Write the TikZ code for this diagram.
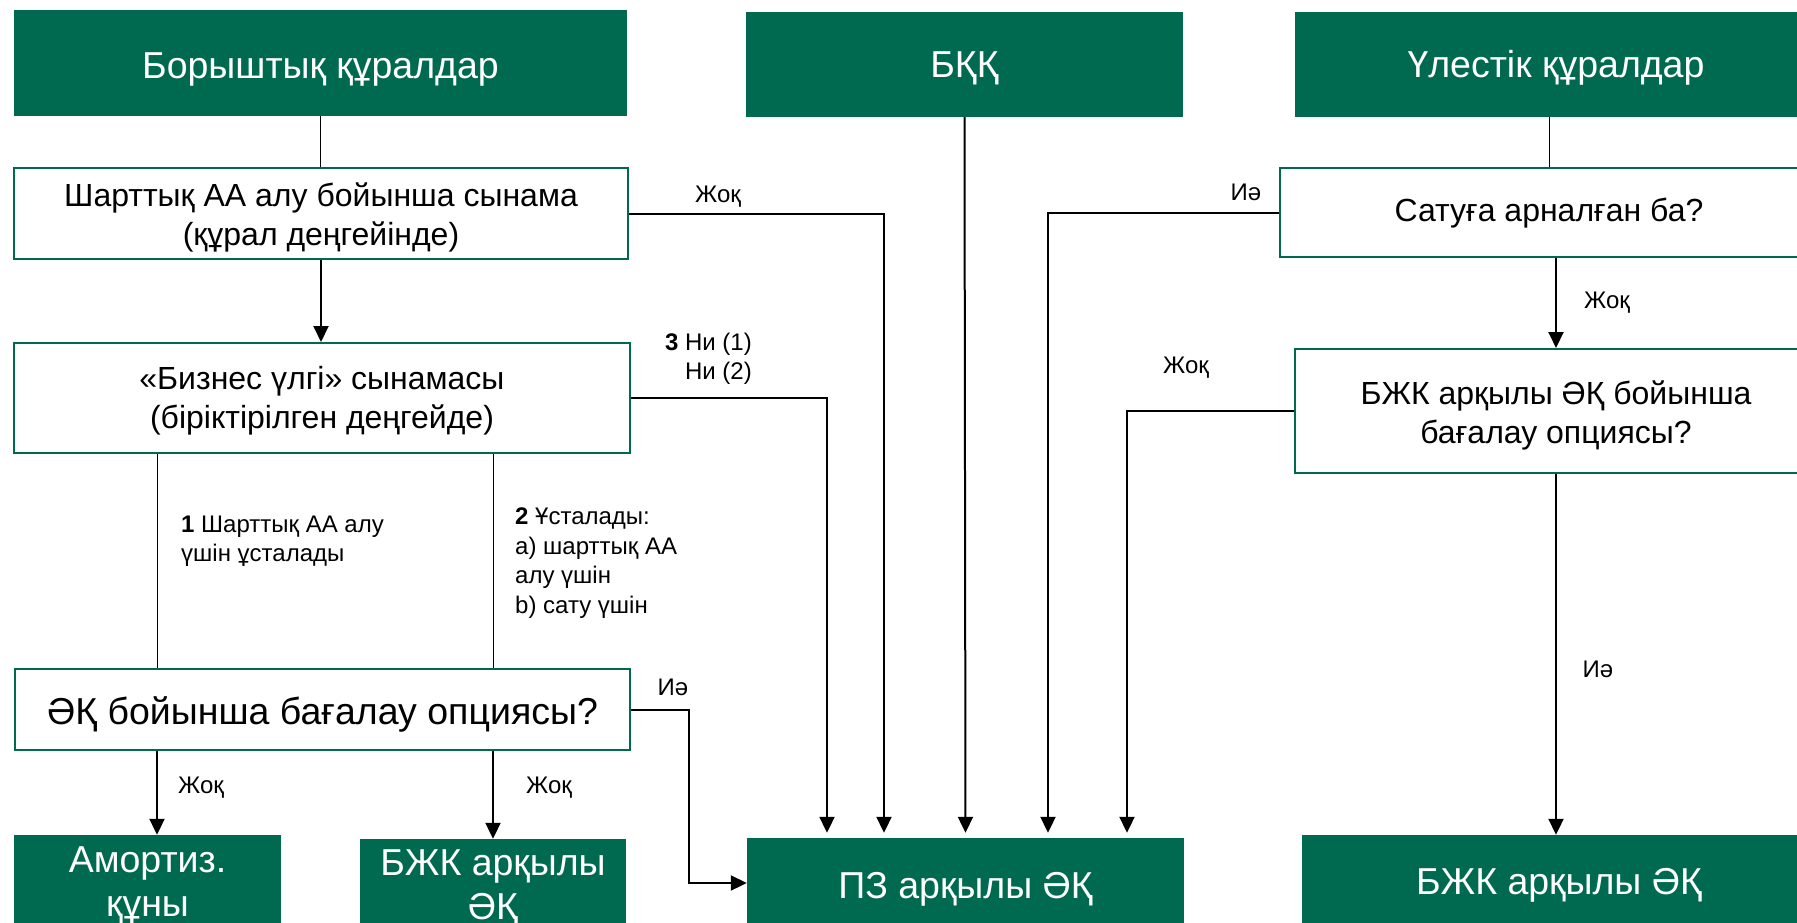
\documentclass[tikz,border=0pt]{standalone}
\usepackage{fontspec}
\setmainfont{Liberation Sans}
\usetikzlibrary{arrows.meta}
\definecolor{gr}{RGB}{0,106,80}
\newcommand{\dnshift}[2]{\raisebox{-#1}[\height][\depth]{#2}}
\begin{document}
\begin{tikzpicture}[x=1pt,y=-1pt,
 hdr/.style={fill=gr, draw=none, text=white, inner sep=0pt, align=center, font=\fontsize{37.5}{44}\selectfont},
 wbox/.style={fill=white, draw=gr, line width=2pt, inner sep=0pt, align=center, font=\fontsize{32}{39}\selectfont},
 lbl/.style={inner sep=0pt, font=\fontsize{24}{29.5}\selectfont},
 arr/.style={line width=2pt, -{Triangle[length=16pt,width=15pt]}},
 thn/.style={line width=1pt}]
\useasboundingbox (0,0) rectangle (1797,923);
\clip (0,0) rectangle (1797,923);
\fill[white] (0,0) rectangle (1797,923);

% headers
\node[hdr, minimum width=613pt, minimum height=106pt] (h1) at (320.5,63) {\dnshift{6pt}{Борыштық құралдар}};
\node[hdr, minimum width=437pt, minimum height=105pt] (h2) at (964.5,64.5) {\dnshift{3.5pt}{БҚҚ}};
\node[hdr, minimum width=522pt, minimum height=105pt] (h3) at (1556,64.5) {\dnshift{3.5pt}{Үлестік құралдар}};

% white boxes
\node[wbox, minimum width=614pt, minimum height=91pt] (b1) at (321,213.5) {\dnshift{3.5pt}{Шарттық АА алу бойынша сынама}\\\dnshift{3.5pt}{(құрал деңгейінде)}};
\node[wbox, minimum width=616pt, minimum height=110pt] (b2) at (322,398) {\dnshift{3pt}{«Бизнес үлгі» сынамасы}\\\dnshift{3pt}{(біріктірілген деңгейде)}};
\node[wbox, minimum width=615pt, minimum height=81pt, font=\fontsize{37.5}{44}\selectfont] (b3) at (322.5,709.5) {\dnshift{4.5pt}{ӘҚ бойынша бағалау опциясы?}};
\node[wbox, minimum width=538pt, minimum height=89pt] (b4) at (1549,212.5) {\dnshift{1pt}{Сатуға арналған ба?}};
\node[wbox, minimum width=522pt, minimum height=124pt] (b5) at (1556,411) {\dnshift{4pt}{БЖК арқылы ӘҚ бойынша}\\\dnshift{4pt}{бағалау опциясы?}};

% end boxes
\node[hdr, minimum width=267pt, minimum height=96pt] (e1) at (147.5,883) {\dnshift{2pt}{Амортиз.}\\\dnshift{2pt}{құны}};
\node[hdr, minimum width=266pt, minimum height=92pt] (e2) at (493,885) {\dnshift{3pt}{БЖК арқылы}\\\dnshift{3pt}{ӘҚ}};
\node[hdr, minimum width=437pt, minimum height=98pt] (e3) at (965.5,887) {\dnshift{2pt}{ПЗ арқылы ӘҚ}};
\node[hdr, minimum width=514pt, minimum height=96pt] (e4) at (1559,883) {\dnshift{2pt}{БЖК арқылы ӘҚ}};

% routing coordinates
\coordinate (vA) at (157,0);
\coordinate (vB) at (493,0);
\coordinate (vC) at (689,883);
\coordinate (vD) at (827,0);
\coordinate (vE) at (884,0);
\coordinate (vF) at (1048,0);
\coordinate (vG) at (1127,0);

% connectors
\draw[thn] (h1.south) -- (h1.south |- b1.north);
\draw[arr] (b1.south) -- (b1.south |- b2.north);
\draw[thn] (b2.south -| vA) -- (b3.north -| vA);
\draw[thn] (b2.south -| vB) -- (b3.north -| vB);
\draw[arr] (b3.south -| vA) -- (e1.north -| vA);
\draw[arr] (b3.south -| vB) -- (e2.north -| vB);
\draw[arr] (b3.east) -| (vC) -- (vC -| e3.west);
\draw[arr,shorten >=5pt] (b1.east) -| (e3.north -| vE);
\draw[arr,shorten >=5pt] (b2.east) -| (e3.north -| vD);
\draw[arr,shorten >=5pt] (h2.south) -- (e3.north);
\draw[arr,shorten >=5pt] (b4.west) -| (e3.north -| vF);
\draw[arr,shorten >=5pt] (b5.west) -| (e3.north -| vG);
\draw[thn] (b4.north |- h3.south) -- (b4.north);
\draw[arr] (b5.north |- b4.south) -- (b5.north);
\draw[arr] (b5.south) -- (b5.south |- e4.north);

% labels
\node[lbl] (l1) at (718,197) {Жоқ};
\node[lbl, align=right, anchor=east] (l2) at (752,359) {\textbf{3} Ни (1)\\Ни (2)};
\node[lbl, align=left, anchor=west] (l3) at (181,541) {\textbf{1} Шарттық АА алу\\үшін ұсталады};
\node[lbl, align=left, anchor=west] (l4) at (515,563) {\textbf{2} Ұсталады:\\a) шарттық АА\\алу үшін\\b) сату үшін};
\node[lbl] (l5) at (673,687) {Иә};
\node[lbl] (l6) at (201,788) {Жоқ};
\node[lbl] (l7) at (549,788) {Жоқ};
\node[lbl] (l8) at (1246,192) {Иә};
\node[lbl] (l9) at (1607,303) {Жоқ};
\node[lbl] (l10) at (1186,368) {Жоқ};
\node[lbl] (l11) at (1598,669) {Иә};
\end{tikzpicture}
\end{document}
